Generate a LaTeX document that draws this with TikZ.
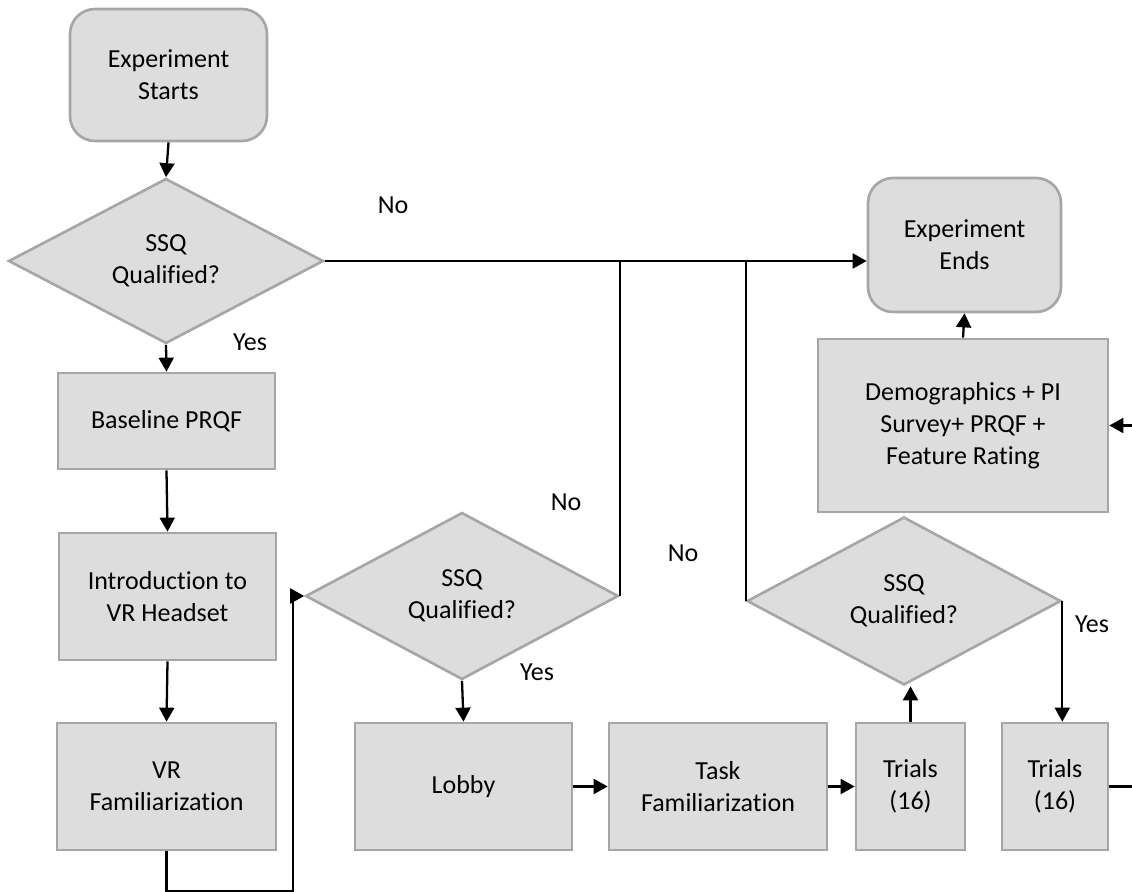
\documentclass[tikz,border=0pt]{standalone}
\usepackage{fontspec}
\setmainfont{Carlito}[Ligatures=CommonOff]
\usetikzlibrary{shapes.geometric,arrows.meta,calc}
\definecolor{boxfill}{HTML}{DDDDDD}
\definecolor{boxline}{HTML}{A6A6A6}
\begin{document}
\begin{tikzpicture}[x=0.02cm,y=-0.02cm,
  every node/.style={font=\fontsize{14.8}{18.1}\selectfont, align=center},
  procbox/.style={draw=boxline, fill=boxfill, line width=1.5pt, inner sep=0pt},
  roundbox/.style={procbox, rounded corners=0.5cm},
  decision/.style={diamond, draw=boxline, fill=boxfill, line width=1.5pt, inner sep=0pt},
  arr/.style={line width=1.3pt, -{Triangle[length=8pt,width=8.5pt]}},
  conn/.style={line width=1.3pt},
  lbl/.style={inner sep=0pt}]
\useasboundingbox (0,0) rectangle (1132,892);
% nodes
\node[roundbox, minimum width=3.94cm, minimum height=2.64cm] (start) at (168.5,75) {Experiment\\Starts};
\node[decision, minimum width=6.3cm, minimum height=3.3cm] (d1) at (166,261) {SSQ\\Qualified?};
\node[procbox, minimum width=4.34cm, minimum height=1.92cm] (base) at (166.5,421) {Baseline PRQF};
\node[procbox, minimum width=4.34cm, minimum height=2.54cm] (intro) at (167.5,596.5) {Introduction to\\VR Headset};
\node[procbox, minimum width=4.38cm, minimum height=2.54cm] (vrfam) at (166.5,786.5) {VR\\Familiarization};
\node[decision, minimum width=6.26cm, minimum height=3.34cm] (d2) at (462,596) {SSQ\\Qualified?};
\node[procbox, minimum width=4.34cm, minimum height=2.54cm] (lobby) at (463.5,786.5) {Lobby};
\node[procbox, minimum width=4.36cm, minimum height=2.54cm] (task) at (718,786.5) {Task\\Familiarization};
\node[procbox, minimum width=2.18cm, minimum height=2.54cm] (tr1) at (910.5,786.5) {Trials\\(16)};
\node[procbox, minimum width=2.12cm, minimum height=2.54cm] (tr2) at (1055,786.5) {Trials\\(16)};
\node[decision, minimum width=6.28cm, minimum height=3.36cm] (d3) at (904,601) {SSQ\\Qualified?};
\node[procbox, minimum width=5.8cm, minimum height=3.46cm] (demo) at (963,425.5) {Demographics + PI\\Survey+ PRQF +\\Feature Rating};
\node[roundbox, minimum width=3.86cm, minimum height=2.68cm] (ends) at (964.5,245) {Experiment\\Ends};
% labels
\node[lbl] (no1) at (393,205) {No};
\node[lbl] (no2) at (566,502) {No};
\node[lbl] (no3) at (683,553) {No};
\node[lbl] (yes1) at (250,342) {Yes};
\node[lbl] (yes2) at (537,672) {Yes};
\node[lbl] (yes3) at (1092,624) {Yes};
% junction coordinates
\coordinate (j1) at (d2.east |- d1.east);
\coordinate (j2) at (d3.west |- d1.east);
\coordinate (fbl) at (166.5,891);
\coordinate (fbr) at (293,891);
\coordinate (offr) at (1200,786.5);
% connectors
\draw[arr] (start.south) -- (d1.north);
\draw[arr] (d1.south) -- (base.north);
\draw[arr] (base.south) -- (intro.north);
\draw[arr] (intro.south) -- (vrfam.north);
\draw[arr] (d1.east) -- (d1.east -| ends.west);
\draw[conn] (d2.east) -- (j1);
\draw[conn] (d3.west) -- (j2);
\draw[arr] (vrfam.south) -- (fbl) -- (fbr) |- (d2.west);
\draw[arr] (d2.south) -- (lobby.north);
\draw[arr] (lobby.east) -- (task.west);
\draw[arr] (task.east) -- (tr1.west);
\draw[arr] (tr1.north) -- (tr1.north |- d3.south);
\draw[arr] (d3.east) -- (d3.east |- tr2.north);
\draw[arr] (tr2.east) -- (offr) |- (demo.east);
\draw[arr] (demo.north) -- (ends.south);
\end{tikzpicture}
\end{document}
